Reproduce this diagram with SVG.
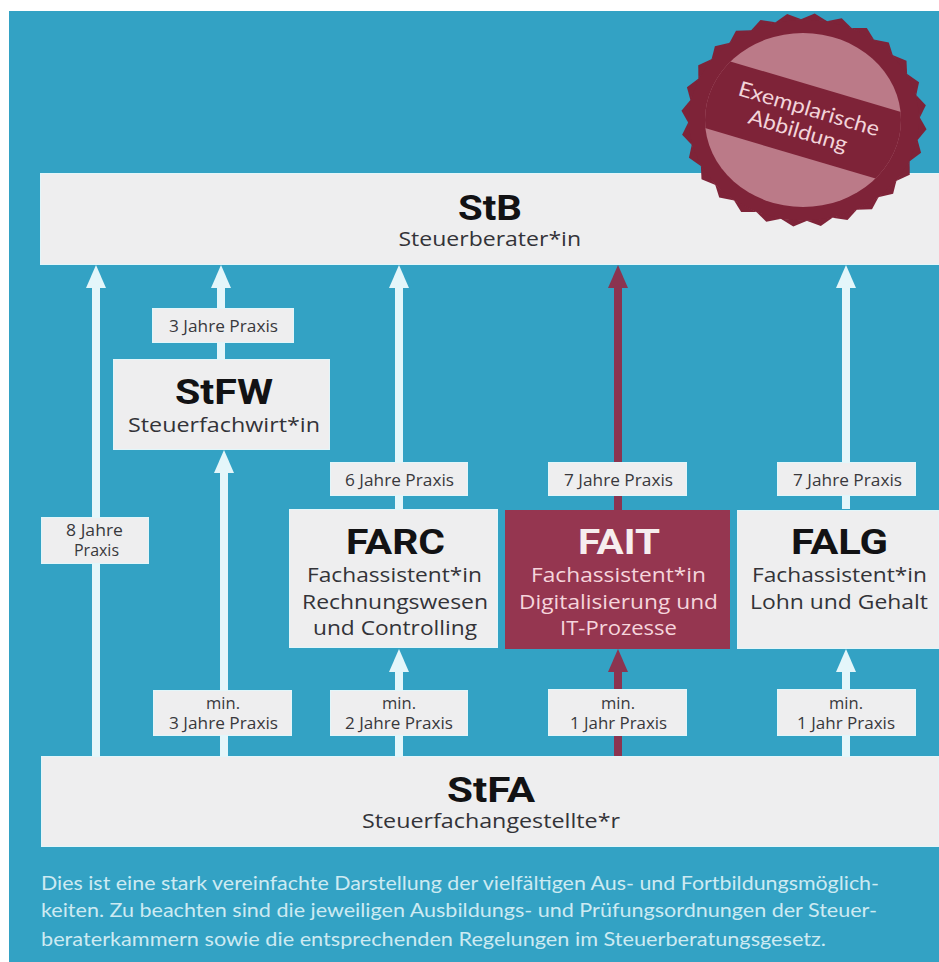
<svg xmlns="http://www.w3.org/2000/svg" xmlns:xlink="http://www.w3.org/1999/xlink" width="939" height="962" viewBox="0 0 939 962">
<style>
.box{fill:#eeeeef;stroke:#e2f6fa;stroke-width:1}
.t{font-family:"Roboto","Liberation Sans",sans-serif;font-weight:700;font-size:35px;fill:#121214}
.s{font-family:"Open Sans","Liberation Sans",sans-serif;font-size:19.500px;fill:#333338}
.l{font-family:"Open Sans","Liberation Sans",sans-serif;font-size:15.500px;fill:#38383c}
.f{font-family:"Lato","Liberation Sans",sans-serif;font-size:20px;fill:#cdeaf2}
.w{stroke:#e4f6fa;stroke-width:8;fill:none}
.m{stroke:#8b3450;stroke-width:8;fill:none}
.seal{font-family:"Lato","Liberation Sans",sans-serif;font-size:21px;fill:#f2d4da}
</style>
<defs>
<marker id="hw" markerUnits="userSpaceOnUse" viewBox="0 0 23 20" refX="0" refY="10" markerWidth="23" markerHeight="20" orient="auto"><path d="M0 0L23 10L0 20Z" fill="#e4f6fa"/></marker>
<marker id="hm" markerUnits="userSpaceOnUse" viewBox="0 0 23 20" refX="0" refY="10" markerWidth="23" markerHeight="20" orient="auto"><path d="M0 0L23 10L0 20Z" fill="#8b3450"/></marker>
<polygon id="tooth" points="-13.200,-115 0,-123 13.200,-115" fill="#7e2338"/>
<g id="t7">
<use xlink:href="#tooth" href="#tooth" transform="rotate(0)"/>
<use xlink:href="#tooth" href="#tooth" transform="rotate(12.857)"/>
<use xlink:href="#tooth" href="#tooth" transform="rotate(25.714)"/>
<use xlink:href="#tooth" href="#tooth" transform="rotate(38.571)"/>
<use xlink:href="#tooth" href="#tooth" transform="rotate(51.429)"/>
<use xlink:href="#tooth" href="#tooth" transform="rotate(64.286)"/>
<use xlink:href="#tooth" href="#tooth" transform="rotate(77.143)"/>
</g>
<clipPath id="inner"><ellipse cx="803" cy="120" rx="98" ry="87"/></clipPath>
</defs>
<rect x="9" y="11" width="930" height="951" fill="#33a2c4"/>
<g id="connectors">
<line class="w" x1="96" y1="756" x2="96" y2="288" marker-end="url(#hw)"/>
<line class="w" x1="221" y1="359" x2="221" y2="288" marker-end="url(#hw)"/>
<line class="w" x1="224" y1="756" x2="224" y2="473" marker-end="url(#hw)"/>
<line class="w" x1="399" y1="509" x2="399" y2="288" marker-end="url(#hw)"/>
<line class="m" x1="618" y1="510" x2="618" y2="288" marker-end="url(#hm)"/>
<line class="w" x1="846" y1="509" x2="846" y2="288" marker-end="url(#hw)"/>
<line class="w" x1="399" y1="756" x2="399" y2="672" marker-end="url(#hw)"/>
<line class="m" x1="618" y1="757" x2="618" y2="672" marker-end="url(#hm)"/>
<line class="w" x1="846" y1="756" x2="846" y2="672" marker-end="url(#hw)"/>
</g>
<g id="StB"><rect class="box" x="40.500" y="173.500" width="899" height="91"/>
<text class="t" x="458" y="220" textLength="64" lengthAdjust="spacingAndGlyphs">StB</text>
<text class="s" x="398.500" y="246" textLength="182.500" lengthAdjust="spacingAndGlyphs">Steuerberater*in</text></g>
<g id="StFW"><rect class="box" x="113.500" y="359.500" width="216" height="90"/>
<text class="t" x="175" y="404" textLength="98" lengthAdjust="spacingAndGlyphs">StFW</text>
<text class="s" x="128" y="432" textLength="192" lengthAdjust="spacingAndGlyphs">Steuerfachwirt*in</text></g>
<g id="FARC"><rect class="box" x="289.500" y="509.500" width="208" height="138"/>
<text class="t" x="346" y="554" textLength="99" lengthAdjust="spacingAndGlyphs">FARC</text>
<text class="s" x="307" y="582" textLength="175" lengthAdjust="spacingAndGlyphs">Fachassistent*in</text>
<text class="s" x="302" y="608.500" textLength="186" lengthAdjust="spacingAndGlyphs">Rechnungswesen</text>
<text class="s" x="313" y="634.500" textLength="164" lengthAdjust="spacingAndGlyphs">und Controlling</text></g>
<g id="FAIT"><rect x="505" y="510" width="225" height="139" fill="#953650"/>
<text class="t" x="578" y="554" textLength="82" lengthAdjust="spacingAndGlyphs" style="fill:#f6eeee">FAIT</text>
<text class="s" x="531" y="582" textLength="175" lengthAdjust="spacingAndGlyphs" style="fill:#f5d5dc">Fachassistent*in</text>
<text class="s" x="519" y="608.500" textLength="199" lengthAdjust="spacingAndGlyphs" style="fill:#f5d5dc">Digitalisierung und</text>
<text class="s" x="560" y="634.500" textLength="117" lengthAdjust="spacingAndGlyphs" style="fill:#f5d5dc">IT-Prozesse</text></g>
<g id="FALG"><rect class="box" x="737.500" y="510.500" width="201.500" height="138"/>
<text class="t" x="791" y="554" textLength="97" lengthAdjust="spacingAndGlyphs">FALG</text>
<text class="s" x="752" y="582" textLength="175" lengthAdjust="spacingAndGlyphs">Fachassistent*in</text>
<text class="s" x="750" y="608.500" textLength="178" lengthAdjust="spacingAndGlyphs">Lohn und Gehalt</text></g>
<g id="StFA"><rect class="box" x="41.500" y="756.500" width="897.500" height="90"/>
<text class="t" x="447" y="802" textLength="88" lengthAdjust="spacingAndGlyphs">StFA</text>
<text class="s" x="362" y="828" textLength="258" lengthAdjust="spacingAndGlyphs">Steuerfachangestellte*r</text></g>
<g id="label-3-jahre"><rect class="box" x="152.500" y="308.500" width="141" height="34"/>
<text class="l" x="169" y="332" textLength="109" lengthAdjust="spacingAndGlyphs">3 Jahre Praxis</text></g>
<g id="label-6-jahre"><rect class="box" x="330.500" y="462.500" width="137" height="33"/>
<text class="l" x="345" y="486" textLength="109" lengthAdjust="spacingAndGlyphs">6 Jahre Praxis</text></g>
<g id="label-7-jahre-fait"><rect class="box" x="548.500" y="462.500" width="138" height="33"/>
<text class="l" x="564" y="486" textLength="109" lengthAdjust="spacingAndGlyphs">7 Jahre Praxis</text></g>
<g id="label-7-jahre-falg"><rect class="box" x="777.500" y="462.500" width="138" height="33"/>
<text class="l" x="793" y="486" textLength="109" lengthAdjust="spacingAndGlyphs">7 Jahre Praxis</text></g>
<g id="label-8-jahre"><rect class="box" x="41.500" y="517.500" width="107" height="46"/>
<text class="l" x="66" y="536" textLength="57" lengthAdjust="spacingAndGlyphs">8 Jahre</text>
<text class="l" x="74" y="556" textLength="45" lengthAdjust="spacingAndGlyphs">Praxis</text></g>
<g id="label-min-3"><rect class="box" x="153.500" y="690.500" width="138" height="45"/>
<text class="l" x="206" y="709" textLength="34" lengthAdjust="spacingAndGlyphs">min.</text>
<text class="l" x="169" y="729" textLength="109" lengthAdjust="spacingAndGlyphs">3 Jahre Praxis</text></g>
<g id="label-min-2"><rect class="box" x="330.500" y="690.500" width="137" height="45"/>
<text class="l" x="382" y="709" textLength="34" lengthAdjust="spacingAndGlyphs">min.</text>
<text class="l" x="345" y="729" textLength="108" lengthAdjust="spacingAndGlyphs">2 Jahre Praxis</text></g>
<g id="label-min-1-fait"><rect class="box" x="548.500" y="689.500" width="138" height="46"/>
<text class="l" x="601" y="709" textLength="34" lengthAdjust="spacingAndGlyphs">min.</text>
<text class="l" x="570" y="729" textLength="97" lengthAdjust="spacingAndGlyphs">1 Jahr Praxis</text></g>
<g id="label-min-1-falg"><rect class="box" x="777.500" y="689.500" width="138" height="46"/>
<text class="l" x="829" y="709" textLength="34" lengthAdjust="spacingAndGlyphs">min.</text>
<text class="l" x="797" y="729" textLength="98" lengthAdjust="spacingAndGlyphs">1 Jahr Praxis</text></g>
<g id="seal">
<g transform="translate(804 120) scale(1 .87) rotate(5)">
<circle r="116" fill="#7e2338"/>
<use xlink:href="#t7" href="#t7"/>
<use xlink:href="#t7" href="#t7" transform="rotate(90)"/>
<use xlink:href="#t7" href="#t7" transform="rotate(180)"/>
<use xlink:href="#t7" href="#t7" transform="rotate(270)"/>
</g>
<ellipse cx="803" cy="120" rx="98" ry="87" fill="#bb7a88"/>
<g clip-path="url(#inner)"><rect x="650" y="84.500" width="310" height="71" fill="#7e2338" transform="rotate(16.500 803 120)"/></g>
<text class="seal" transform="translate(737 95) rotate(16.500)" textLength="146" lengthAdjust="spacingAndGlyphs">Exemplarische</text>
<text class="seal" transform="translate(747 123) rotate(16.500)" textLength="102" lengthAdjust="spacingAndGlyphs">Abbildung</text>
</g>
<g id="footnote">
<text class="f" x="41" y="890" textLength="838" lengthAdjust="spacingAndGlyphs">Dies ist eine stark vereinfachte Darstellung der vielfältigen Aus- und Fortbildungsmöglich-</text>
<text class="f" x="41" y="917" textLength="836" lengthAdjust="spacingAndGlyphs">keiten. Zu beachten sind die jeweiligen Ausbildungs- und Prüfungsordnungen der Steuer-</text>
<text class="f" x="41" y="946" textLength="785" lengthAdjust="spacingAndGlyphs">beraterkammern sowie die entsprechenden Regelungen im Steuerberatungsgesetz.</text>
</g>
</svg>
